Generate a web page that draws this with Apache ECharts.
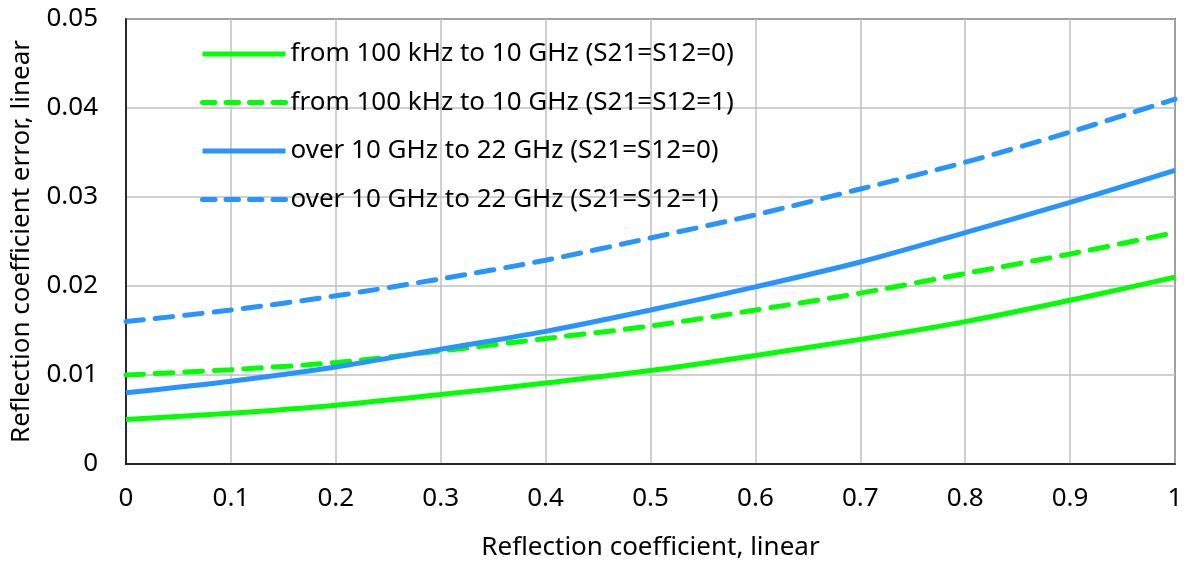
<!DOCTYPE html>
<html>
<head>
<meta charset="utf-8">
<script src="https://cdn.jsdelivr.net/npm/echarts@6/dist/echarts.min.js"></script>
<style>html,body{margin:0;padding:0;background:#fff}#c{width:1189px;height:567px}</style>
</head>
<body>
<div id="c"></div>
<script>
var xValues = [0, 0.1, 0.2, 0.3, 0.4, 0.5, 0.6, 0.7, 0.8, 0.9, 1.0];
var seriesNames = [
  'from 100 kHz to 10 GHz (S21=S12=0)',
  'from 100 kHz to 10 GHz (S21=S12=1)',
  'over 10 GHz to 22 GHz (S21=S12=0)',
  'over 10 GHz to 22 GHz (S21=S12=1)'
];
var lowBandS0 = [0.0050, 0.0057, 0.0066, 0.0078, 0.0091, 0.0105, 0.0122, 0.0140, 0.0160, 0.0184, 0.0210];
var lowBandS1 = [0.0100, 0.0106, 0.0114, 0.0127, 0.0141, 0.0155, 0.0173, 0.0192, 0.0214, 0.0236, 0.0260];
var highBandS0 = [0.0080, 0.0093, 0.0109, 0.0129, 0.0149, 0.0173, 0.0199, 0.0227, 0.0260, 0.0294, 0.0330];
var highBandS1 = [0.0160, 0.0173, 0.0189, 0.0208, 0.0229, 0.0254, 0.0280, 0.0309, 0.0339, 0.0373, 0.0410];

var GREEN = '#00ff00', BLUE = '#2894ff';
var FONT = 'Noto Sans';

function pairs(vals) { return xValues.map(function (x, i) { return [x, vals[i]]; }); }
function mk(name, vals, color, dashed) {
  return {
    name: name, type: 'line', data: pairs(vals), smooth: 0.3,
    symbol: 'none', showSymbol: false,
    lineStyle: { color: color, width: 5, type: dashed ? [17.5, 12] : 'solid', cap: dashed ? 'round' : 'butt' },
    itemStyle: { color: color },
    emphasis: { disabled: true }
  };
}
function legendItem(i, dashed) {
  return { name: seriesNames[i], lineStyle: { width: 5, type: dashed ? [12.5, 11] : 'solid', cap: dashed ? 'round' : 'butt' } };
}

var chart = echarts.init(document.getElementById('c'));
chart.setOption({
  animation: false,
  textStyle: { fontFamily: FONT },
  grid: { left: 126, right: 14, top: 19, bottom: 103, show: true, borderColor: '#000', borderWidth: 1.5, backgroundColor: 'transparent' },
  legend: {
    orient: 'vertical', left: 200, top: 41, padding: 0,
    itemWidth: 83, itemHeight: 26, itemGap: 22.5,
    itemStyle: { opacity: 0, borderWidth: 0 },
    textStyle: { fontFamily: FONT, fontSize: 26, color: '#000' },
    data: [legendItem(0, false), legendItem(1, true), legendItem(2, false), legendItem(3, true)]
  },
  xAxis: {
    type: 'value', min: 0, max: 1, interval: 0.1,
    name: 'Reflection coefficient, linear', nameLocation: 'middle', nameGap: 71,
    nameTextStyle: { fontFamily: FONT, fontSize: 26, color: '#000' },
    axisLine: { show: true, lineStyle: { color: '#000', width: 1.5 } },
    axisTick: { show: false },
    axisLabel: { fontFamily: FONT, fontSize: 26, color: '#000', margin: 22 },
    splitLine: { show: true, lineStyle: { color: '#c0c0c0', width: 1.5 } }
  },
  yAxis: {
    type: 'value', min: 0, max: 0.05, interval: 0.01,
    name: 'Reflection coefficient error, linear', nameLocation: 'middle', nameGap: 91,
    nameTextStyle: { fontFamily: FONT, fontSize: 26, color: '#000' },
    axisLine: { show: true, lineStyle: { color: '#000', width: 1.5 } },
    axisTick: { show: false },
    axisLabel: { fontFamily: FONT, fontSize: 26, color: '#000', margin: 28 },
    splitLine: { show: true, lineStyle: { color: '#c0c0c0', width: 1.5 } }
  },
  series: [
    mk(seriesNames[0], lowBandS0, GREEN, false),
    mk(seriesNames[1], lowBandS1, GREEN, true),
    mk(seriesNames[2], highBandS0, BLUE, false),
    mk(seriesNames[3], highBandS1, BLUE, true)
  ]
});
</script>
</body>
</html>
